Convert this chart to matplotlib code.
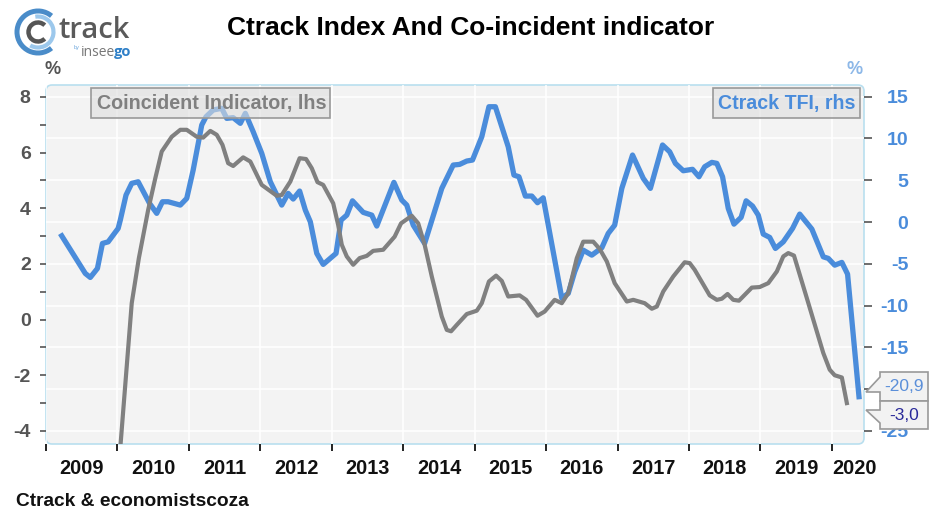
import matplotlib
matplotlib.use('Agg')
import matplotlib.pyplot as plt
from matplotlib.patches import FancyBboxPatch, Polygon, Arc, Rectangle
from matplotlib.ticker import FixedLocator, NullFormatter

plt.rcParams['font.family'] = ['Liberation Sans', 'DejaVu Sans']

# DATA (decimal year)
tfi_dates = [2009.22, 2009.55, 2009.62, 2009.72, 2009.79, 2009.87, 2010.01, 2010.04, 2010.12, 2010.20,
             2010.29, 2010.45, 2010.55, 2010.63, 2010.71, 2010.88, 2010.97, 2011.06, 2011.18, 2011.24,
             2011.34, 2011.46, 2011.53, 2011.62, 2011.72, 2011.79, 2011.90, 2012.02, 2012.14, 2012.30,
             2012.39, 2012.46, 2012.55, 2012.63, 2012.70, 2012.79, 2012.88, 2013.06, 2013.13, 2013.21,
             2013.29, 2013.44, 2013.56, 2013.63, 2013.87, 2013.98, 2014.05, 2014.14, 2014.30, 2014.54,
             2014.70, 2014.79, 2014.89, 2014.97, 2015.10, 2015.20, 2015.29, 2015.47, 2015.55, 2015.62,
             2015.71, 2015.80, 2015.88, 2015.96, 2016.22, 2016.31, 2016.40, 2016.52, 2016.64, 2016.78,
             2016.87, 2016.96, 2017.06, 2017.21, 2017.36, 2017.46, 2017.63, 2017.73, 2017.81, 2017.92,
             2018.05, 2018.14, 2018.22, 2018.32, 2018.39, 2018.47, 2018.55, 2018.63, 2018.73, 2018.80,
             2018.89, 2018.97, 2019.04, 2019.13, 2019.21, 2019.32, 2019.45, 2019.55, 2019.72, 2019.88,
             2019.95, 2020.04, 2020.14, 2020.22, 2020.38]
tfi_values = [-1.65, -6.15, -6.63, -5.55, -2.56, -2.37, -0.76, 0.23, 3.23, 4.63,
              4.82, 2.23, 1.04, 2.43, 2.43, 2.03, 2.83, 6.22, 11.61, 12.6,
              13.41, 13.61, 12.41, 12.49, 11.81, 13.01, 10.81, 8.22, 4.82, 2.03,
              3.43, 2.75, 3.71, 1.43, 0.03, -3.75, -5.07, -3.75, 0.23, 0.83,
              2.54, 1.16, 0.83, -0.48, 4.75, 2.63, 2.03, -0.37, -2.56, 4.03,
              6.82, 6.90, 7.30, 7.42, 10.21, 13.80, 13.80, 9.01, 5.62, 5.42,
              3.11, 3.11, 2.31, 2.90, -9.11, -8.54, -5.96, -3.36, -3.96, -3.08,
              -1.36, -0.37, 4.03, 8.02, 5.23, 4.03, 9.22, 8.41, 7.02, 6.14,
              6.31, 5.42, 6.62, 7.14, 7.02, 5.42, 1.63, -0.25, 0.56, 2.54,
              1.91, 0.83, -1.44, -1.84, -3.16, -2.37, -0.76, 0.95, -0.84, -4.16,
              -4.35, -5.16, -4.83, -6.23, -20.9]

coin_dates = [2010.04, 2010.20, 2010.30, 2010.43, 2010.53, 2010.62, 2010.76, 2010.88, 2010.97, 2011.11,
              2011.20, 2011.30, 2011.39, 2011.47, 2011.55, 2011.62, 2011.76, 2011.86, 2012.02, 2012.23,
              2012.30, 2012.42, 2012.55, 2012.64, 2012.72, 2012.80, 2012.88, 2013.02, 2013.09, 2013.14,
              2013.21, 2013.30, 2013.39, 2013.49, 2013.58, 2013.72, 2013.88, 2013.97, 2014.12, 2014.21,
              2014.30, 2014.40, 2014.54, 2014.61, 2014.67, 2014.75, 2014.89, 2015.03, 2015.10, 2015.20,
              2015.30, 2015.38, 2015.47, 2015.63, 2015.72, 2015.88, 2015.98, 2016.12, 2016.22, 2016.31,
              2016.43, 2016.52, 2016.66, 2016.75, 2016.85, 2016.96, 2017.13, 2017.22, 2017.38, 2017.48,
              2017.55, 2017.64, 2017.78, 2017.94, 2018.01, 2018.08, 2018.29, 2018.39, 2018.46, 2018.54,
              2018.62, 2018.70, 2018.88, 2018.99, 2019.11, 2019.23, 2019.32, 2019.39, 2019.47, 2019.65,
              2019.88, 2019.97, 2020.04, 2020.14, 2020.21]
coin_values = [-4.6, 0.59, 2.21, 3.94, 5.08, 6.04, 6.57, 6.82, 6.82, 6.57,
               6.54, 6.78, 6.64, 6.28, 5.62, 5.52, 5.83, 5.68, 4.84, 4.45,
               4.48, 4.96, 5.80, 5.77, 5.44, 4.94, 4.84, 4.18, 3.40, 2.69,
               2.27, 1.97, 2.21, 2.29, 2.47, 2.51, 2.98, 3.46, 3.73, 3.46,
               2.69, 1.55, 0.11, -0.37, -0.42, -0.19, 0.20, 0.32, 0.59, 1.37,
               1.58, 1.39, 0.83, 0.87, 0.71, 0.14, 0.29, 0.71, 0.59, 0.95,
               2.21, 2.80, 2.80, 2.54, 2.09, 1.31, 0.65, 0.71, 0.59, 0.39,
               0.47, 1.01, 1.55, 2.06, 2.03, 1.79, 0.87, 0.71, 0.75, 0.92,
               0.71, 0.68, 1.15, 1.17, 1.31, 1.73, 2.27, 2.39, 2.30, 0.77,
               -1.20, -1.80, -2.00, -2.08, -3.0]

year_ticks = list(range(2009, 2021))
year_label_pos = [y + 0.5 for y in range(2009, 2020)] + [2020.32]
year_labels = [str(y) for y in range(2009, 2021)]
left_labelled = [-4, -2, 0, 2, 4, 6, 8]
left_unlabelled = [-3, -1, 1, 3, 5, 7]
right_ticks = [-25, -20, -15, -10, -5, 0, 5, 10, 15]
# -20 sits behind the callouts in the reference
right_labels = ['-25', '', '-15', '-10', '-5', '0', '5', '10', '15']

BLUE = '#4a8cdb'
GRAY = '#808080'
DARK = '#555555'
W, H = 941, 529

fig = plt.figure(figsize=(W / 100, H / 100), dpi=100, facecolor='white')

# full figure layers in pixel coordinates, for the furniture
under = fig.add_axes([0, 0, 1, 1], zorder=0)
over = fig.add_axes([0, 0, 1, 1], zorder=5)
for a in (under, over):
    a.set_xlim(0, W)
    a.set_ylim(H, 0)
    a.axis('off')
    a.patch.set_visible(False)

L, R, T, B = 46, 864, 85, 444
rect = [L / W, 1 - B / H, (R - L) / W, (B - T) / H]
ax2 = fig.add_axes(rect, zorder=1)
ax = ax2.twinx()
ax.set_zorder(2)
ax.patch.set_visible(False)
ax2.patch.set_visible(False)

under.add_patch(FancyBboxPatch((L + 6, T + 6), R - L - 12, B - T - 12, boxstyle='round,pad=6,rounding_size=6',
                               fc='#f3f3f3', ec='#b9dfef', lw=1.2))

# blue line, right scale, below
ax2.plot(tfi_dates, tfi_values, color=BLUE, lw=3.8, solid_joinstyle='round')
ax2.set_xlim(2009, 2020.45)
ax2.set_ylim(-26.56, 16.4)
ax2.yaxis.tick_right()
ax2.set_yticks(right_ticks)
ax2.set_yticklabels(right_labels, color=BLUE, fontsize=14, fontweight='bold', ha='right')
ax2.tick_params(axis='y', length=5.5, width=1.2, color=DARK, pad=26.5)
ax2.set_xticks(year_ticks)
ax2.grid(True, color='white', lw=1.1)
ax2.set_axisbelow(True)

# gray line, left scale, on top
ax.plot(coin_dates, coin_values, color=GRAY, lw=3.0, solid_joinstyle='round')
ax.set_ylim(-4.47, 8.43)
ax.yaxis.tick_left()
ax.yaxis.set_major_locator(FixedLocator(left_labelled))
ax.yaxis.set_minor_locator(FixedLocator(left_unlabelled))
ax.set_yticklabels([str(v) for v in left_labelled], color=DARK, fontsize=14, fontweight='bold')
ax.yaxis.set_minor_formatter(NullFormatter())
ax.tick_params(axis='y', which='both', length=4.5, width=1.2, color=DARK, pad=6.5)

ax.xaxis.set_visible(True)
ax.xaxis.tick_bottom()
ax.set_xticks(year_ticks)
ax.set_xticks(year_label_pos, minor=True)
ax.set_xticklabels(year_labels, minor=True, fontsize=14.3, fontweight='bold', color='#111111')
ax.xaxis.set_major_formatter(NullFormatter())
ax.tick_params(axis='x', which='major', length=5, width=1.4, color='#222222', pad=0)
ax.tick_params(axis='x', which='minor', length=0, pad=11)

# the twin keeps the vertical grid but draws no x ticks or labels of its own
ax2.xaxis.set_visible(True)
ax2.tick_params(axis='x', which='both', length=0, labelbottom=False, labeltop=False)

for a in (ax, ax2):
    for s in a.spines.values():
        s.set_visible(False)

# titles and footer
over.text(470.5, 28, 'Ctrack Index And Co-incident indicator', ha='center', va='center',
          fontsize=19, fontweight='bold', color='black')
over.text(16, 501, 'Ctrack & economistscoza', ha='left', va='center', fontsize=13.8, fontweight='bold', color='#111111')
over.text(53, 69, '%', ha='center', va='center', fontsize=13, fontweight='bold', color=DARK)
over.text(855, 69, '%', ha='center', va='center', fontsize=13, fontweight='bold', color='#8db8e8')

# series labels
BOX_FILL = (0.87, 0.87, 0.87, 0.6)
over.add_patch(Rectangle((91.5, 88), 238.5, 30, fc=BOX_FILL, ec='#999999', lw=1.2))
over.text(212, 103, 'Coincident Indicator, lhs', ha='center', va='center', fontsize=14.2, fontweight='bold', color=GRAY)
over.add_patch(Rectangle((713, 88), 147, 30, fc=BOX_FILL, ec='#999999', lw=1.2))
over.text(786.5, 103, 'Ctrack TFI, rhs', ha='center', va='center', fontsize=14.1, fontweight='bold', color=BLUE)

# end value callouts
over.add_patch(Rectangle((866, 392), 14, 18, fc='white', ec='none'))
for pts in ([(880, 372), (928, 372), (928, 401), (880, 401), (880, 392), (866, 392), (880, 377)],
            [(880, 401), (928, 401), (928, 429), (880, 429), (880, 423), (866, 410), (880, 410)]):
    over.add_patch(Polygon(pts, closed=True, fc='#f2f2f2', ec='#999999', lw=1.2))
over.text(904, 386.5, '-20,9', ha='center', va='center', fontsize=12.5, color='#5b8fd9')
over.text(904, 415.5, '-3,0', ha='center', va='center', fontsize=12.5, color='#2a2a9a')

# logo
over.add_patch(Arc((38, 32), 42, 42, theta1=50, theta2=310, color='#4a8cc9', lw=3.6))
over.add_patch(Arc((38, 32), 31, 31, theta1=-100, theta2=120, color='#9cc8ec', lw=3))
over.add_patch(Arc((38, 32), 19, 19, theta1=45, theta2=315, color='#555555', lw=3.2))
over.text(59, 31, 'track', ha='left', va='center', fontsize=21, family='Open Sans', fontweight='semibold', color='#5a5a5a')
over.text(74, 47, 'by', ha='left', va='center', fontsize=4, color='#6aa5dc')
over.text(81, 52, 'insee', ha='left', va='center', fontsize=10, family='Open Sans', color='#777777')
over.text(114, 52, 'go', ha='left', va='center', fontsize=10.5, family='Open Sans', fontweight='bold', color='#2f80c8')

fig.savefig('out.png', dpi=100)
